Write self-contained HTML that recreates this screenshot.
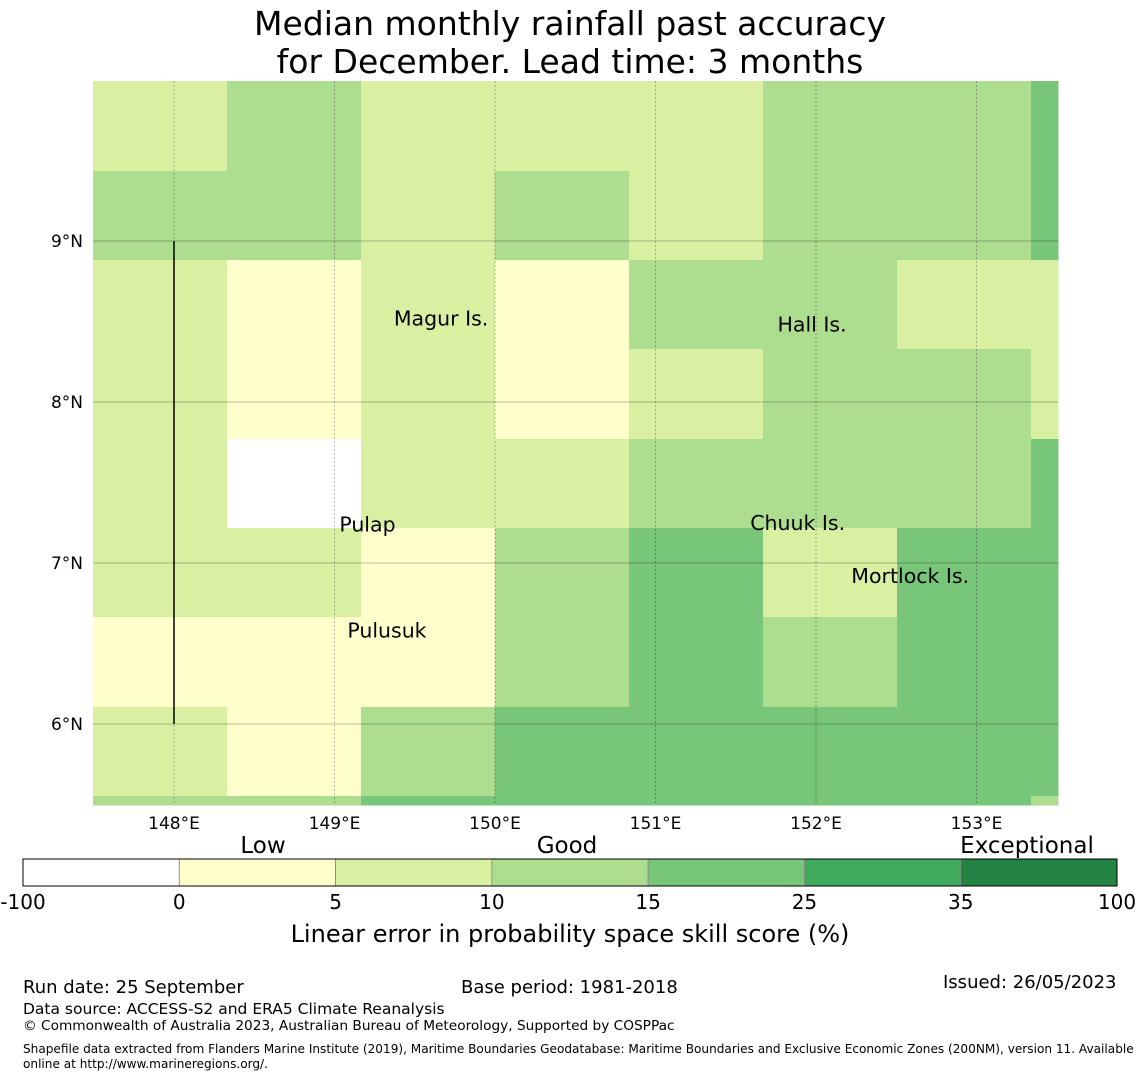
<!DOCTYPE html>
<html><head><meta charset="utf-8"><style>
body{margin:0;background:#fff;font-family:"DejaVu Sans","Liberation Sans",sans-serif;}
#wrap{position:relative;width:1140px;height:1080px;overflow:hidden;}
.t{position:absolute;white-space:nowrap;color:#000;}
</style></head><body>
<div id="wrap">
<div class="t" style="left:0;width:1140px;text-align:center;top:5px;font-size:33px;line-height:38px;">Median monthly rainfall past accuracy<br>for December. Lead time: 3 months</div>
<svg id="map" width="1140" height="1080" style="position:absolute;left:0;top:0"></svg>
<div class="t" style="left:23px;top:977px;font-size:18px;">Run date: 25 September</div>
<div class="t" style="left:461px;top:977px;font-size:18px;">Base period: 1981-2018</div>
<div class="t" style="left:943px;top:972px;font-size:18px;">Issued: 26/05/2023</div>
<div class="t" style="left:23px;top:1000px;font-size:15.5px;">Data source: ACCESS-S2 and ERA5 Climate Reanalysis</div>
<div class="t" style="left:23px;top:1018px;font-size:13.7px;">© Commonwealth of Australia 2023, Australian Bureau of Meteorology, Supported by COSPPac</div>
<div class="t" style="left:23px;top:1042px;font-size:12.1px;line-height:15px;">Shapefile data extracted from Flanders Marine Institute (2019), Maritime Boundaries Geodatabase: Maritime Boundaries and Exclusive Economic Zones (200NM), version 11. Available<br>online at http://www.marineregions.org/.</div>
</div>
<script>
const colors=["#ffffff","#ffffcc","#d9f0a3","#addd8e","#78c679","#41ab5d","#238443"];
const cbTicks=["-100","0","5","10","15","25","35","100"];
const cbCats=["Low","Good","Exceptional"];
const cellRows=[
[2,3,2,2,2,3,3,4],
[3,3,2,3,2,3,3,4],
[2,1,2,1,3,3,2,2],
[2,1,2,1,2,3,3,2],
[2,0,2,2,3,3,3,4],
[2,2,1,3,4,2,4,4],
[1,1,1,3,4,3,4,4],
[2,1,3,4,4,4,4,4],
[3,3,4,4,4,4,4,3]];
const lonTicks=[148,149,150,151,152,153];
const latTicks=[9,8,7,6];
const islandNames=["Magur Is.","Hall Is.","Pulap","Chuuk Is.","Mortlock Is.","Pulusuk"];
const islandLon=[149.37,151.76,149.03,151.59,152.22,149.08];
const islandLat=[8.52,8.48,7.24,7.25,6.92,6.58];
const NS="http://www.w3.org/2000/svg";
const svg=document.getElementById('map');
const X=lon=>174+(lon-148)*160.5;
const Y=lat=>241+(9-lat)*161;
const colEdges=[93,227,361,495,629,763,897,1031,1058];
const rowEdges=[81,171,260,349,439,528,617,707,796,805];
function mk(tag,attrs){const e=document.createElementNS(NS,tag);for(const k in attrs)e.setAttribute(k,attrs[k]);svg.appendChild(e);return e;}
cellRows.forEach((row,r)=>row.forEach((v,c)=>{
 const e=mk('rect',{x:colEdges[c],y:rowEdges[r],width:colEdges[c+1]-colEdges[c]+0.5,height:rowEdges[r+1]-rowEdges[r]+0.5,fill:colors[v]});
 
 
}));
lonTicks.forEach(l=>{
 const e=mk('line',{x1:X(l),x2:X(l),y1:81,y2:805,stroke:'#000','stroke-opacity':0.4,'stroke-width':0.7,'stroke-dasharray':'2,2'});
 
 
 const t=mk('text',{x:X(l),y:829,'font-size':17,'text-anchor':'middle'});t.textContent=l+'°E';
 
 
});
latTicks.forEach(l=>{
 const e=mk('line',{x1:93,x2:1058,y1:Y(l),y2:Y(l),stroke:'#000','stroke-opacity':0.35,'stroke-width':0.7});
 
 
 const t=mk('text',{x:83,y:Y(l)+6,'font-size':17,'text-anchor':'end'});t.textContent=l+'°N';
 
 
});
const bl=mk('line',{x1:174,x2:174,y1:241,y2:724,stroke:'#000','stroke-width':1.5});


islandNames.forEach((n,i)=>{
 const t=mk('text',{x:X(islandLon[i]),y:Y(islandLat[i])+7,'font-size':20.5});t.textContent=n;
 
 
});
// colorbar
const cbx=23,cbw=1094,cby=859,cbh=27,seg=cbw/colors.length;
colors.forEach((c,i)=>{
 const e=mk('rect',{x:cbx+i*seg,y:cby,width:seg,height:cbh,fill:c,stroke:'#888','stroke-width':0.8});
 
 
});
const fr=mk('rect',{x:cbx,y:cby,width:cbw,height:cbh,fill:'none',stroke:'#000','stroke-width':1});


cbTicks.forEach((t,i)=>{
 const e=mk('text',{x:cbx+i*seg,y:909,'font-size':20,'text-anchor':'middle'});e.textContent=t;
 
 
});
const catX=[263,567,1027];
cbCats.forEach((t,i)=>{
 const e=mk('text',{x:catX[i],y:853,'font-size':23,'text-anchor':'middle'});e.textContent=t;
 
 
});
const ct=mk('text',{x:570,y:942,'font-size':24,'text-anchor':'middle'});ct.textContent='Linear error in probability space skill score (%)';


</script>
</body></html>
